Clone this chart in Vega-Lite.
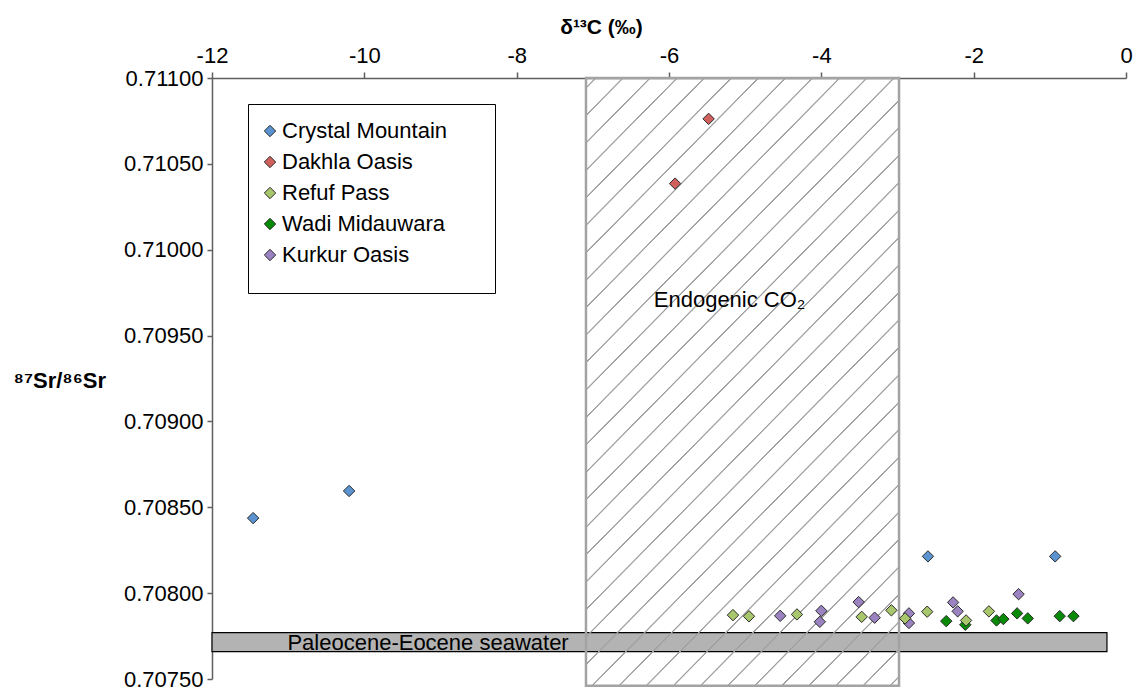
{
  "$schema": "https://vega.github.io/schema/vega-lite/v6.json",
  "width": 914,
  "height": 601,
  "autosize": {"type": "none"},
  "padding": {"left": 212, "top": 78, "right": 7, "bottom": 12},
  "background": "white",
  "config": {"font": "Liberation Sans", "view": {"stroke": null}},
  "datasets": {
    "sea": [{"d13C": -12, "d13C_end": -0.25, "sr": 0.70766, "sr_end": 0.70777}],
    "box": [{"d13C": -7.09, "d13C_end": -2.98, "sr": 0.70746, "sr_end": 0.711}],
    "pts": [
      {"site": "Crystal Mountain", "d13C": -11.46, "sr": 0.708437},
      {"site": "Crystal Mountain", "d13C": -10.2, "sr": 0.708595},
      {"site": "Crystal Mountain", "d13C": -2.6, "sr": 0.708214},
      {"site": "Crystal Mountain", "d13C": -0.93, "sr": 0.708214},
      {"site": "Dakhla Oasis", "d13C": -5.92, "sr": 0.710385},
      {"site": "Dakhla Oasis", "d13C": -5.48, "sr": 0.710762},
      {"site": "Wadi Midauwara", "d13C": -2.36, "sr": 0.707837},
      {"site": "Wadi Midauwara", "d13C": -2.11, "sr": 0.707816},
      {"site": "Wadi Midauwara", "d13C": -1.7, "sr": 0.707841},
      {"site": "Wadi Midauwara", "d13C": -1.61, "sr": 0.707849},
      {"site": "Wadi Midauwara", "d13C": -1.43, "sr": 0.707882},
      {"site": "Wadi Midauwara", "d13C": -1.29, "sr": 0.707853},
      {"site": "Wadi Midauwara", "d13C": -0.87, "sr": 0.707866},
      {"site": "Wadi Midauwara", "d13C": -0.69, "sr": 0.707866},
      {"site": "Kurkur Oasis", "d13C": -4.54, "sr": 0.707868},
      {"site": "Kurkur Oasis", "d13C": -4.0, "sr": 0.707897},
      {"site": "Kurkur Oasis", "d13C": -4.02, "sr": 0.707833},
      {"site": "Kurkur Oasis", "d13C": -3.51, "sr": 0.707948},
      {"site": "Kurkur Oasis", "d13C": -3.3, "sr": 0.707857},
      {"site": "Kurkur Oasis", "d13C": -2.85, "sr": 0.707882},
      {"site": "Kurkur Oasis", "d13C": -2.85, "sr": 0.707826},
      {"site": "Kurkur Oasis", "d13C": -2.27, "sr": 0.707946},
      {"site": "Kurkur Oasis", "d13C": -2.21, "sr": 0.707894},
      {"site": "Kurkur Oasis", "d13C": -1.41, "sr": 0.707994},
      {"site": "Refuf Pass", "d13C": -5.16, "sr": 0.707872},
      {"site": "Refuf Pass", "d13C": -4.95, "sr": 0.707865},
      {"site": "Refuf Pass", "d13C": -4.32, "sr": 0.707876},
      {"site": "Refuf Pass", "d13C": -3.47, "sr": 0.707862},
      {"site": "Refuf Pass", "d13C": -3.08, "sr": 0.7079},
      {"site": "Refuf Pass", "d13C": -2.9, "sr": 0.707853},
      {"site": "Refuf Pass", "d13C": -2.61, "sr": 0.707892},
      {"site": "Refuf Pass", "d13C": -2.1, "sr": 0.707841},
      {"site": "Refuf Pass", "d13C": -1.8, "sr": 0.707894}
    ],
    "notes": [
      {"d13C": -11.01, "sr": 0.70767, "label": "Paleocene-Eocene seawater"},
      {"d13C": -6.2, "sr": 0.709664, "label": "Endogenic CO₂"}
    ]
  },
  "encoding": {
    "x": {
      "field": "d13C", "type": "quantitative",
      "scale": {"domain": [-12, 0], "nice": false, "zero": false},
      "axis": {
        "orient": "top", "values": [-12, -10, -8, -6, -4, -2, 0], "grid": false,
        "labelExpr": "replace(datum.label, '−', '-')", "labelFlush": false, "labelOverlap": false,
        "title": "δ¹³C (‰)", "titleFontSize": 21, "titleFontWeight": "bold", "titleColor": "#000",
        "titleX": 389, "titleY": -45, "titleAlign": "center", "titleBaseline": "alphabetic",
        "labelFontSize": 22, "labelColor": "#000", "labelBaseline": "alphabetic", "labelPadding": 10,
        "tickSize": 6, "tickColor": "#5f5f5f", "tickWidth": 1.5,
        "domainColor": "#5f5f5f", "domainWidth": 1.5
      }
    },
    "y": {
      "field": "sr", "type": "quantitative",
      "scale": {"domain": [0.7075, 0.711], "nice": false, "zero": false},
      "axis": {
        "values": [0.7075, 0.708, 0.7085, 0.709, 0.7095, 0.71, 0.7105, 0.711], "grid": false,
        "format": ".5f", "labelFlush": false, "labelOverlap": false,
        "title": "⁸⁷Sr/⁸⁶Sr", "titleFontSize": 22, "titleFontWeight": "bold", "titleColor": "#000",
        "titleAngle": 0, "titleX": -199, "titleY": 309, "titleAlign": "left", "titleBaseline": "alphabetic",
        "labelFontSize": 22, "labelColor": "#000", "labelPadding": 4, "labelBaseline": "middle",
        "tickSize": 5, "tickColor": "#5f5f5f", "tickWidth": 1.5,
        "domainColor": "#5f5f5f", "domainWidth": 1.5
      }
    }
  },
  "layer": [
    {
      "data": {"name": "sea"},
      "mark": {"type": "rect", "fill": "#b3b3b3", "stroke": "#000", "strokeWidth": 1.2},
      "encoding": {"x2": {"field": "d13C_end"}, "y2": {"field": "sr_end"}}
    },
    {
      "data": {"name": "box"},
      "mark": {
        "type": "rect", "stroke": "#a3a3a3", "strokeWidth": 2.5,
        "fill": {
          "gradient": "linear", "x1": 0, "y1": 0, "x2": 0.6239, "y2": 1.1961,
          "stops": [
            {"offset": 0, "color": "rgba(160,160,160,0)"},
            {"offset": 0.0094, "color": "rgba(160,160,160,0)"}, {"offset": 0.0102, "color": "#a0a0a0"}, {"offset": 0.0114, "color": "#a0a0a0"}, {"offset": 0.0122, "color": "rgba(160,160,160,0)"},
            {"offset": 0.0391, "color": "rgba(160,160,160,0)"}, {"offset": 0.0399, "color": "#a0a0a0"}, {"offset": 0.0411, "color": "#a0a0a0"}, {"offset": 0.0419, "color": "rgba(160,160,160,0)"},
            {"offset": 0.0688, "color": "rgba(160,160,160,0)"}, {"offset": 0.0696, "color": "#a0a0a0"}, {"offset": 0.0708, "color": "#a0a0a0"}, {"offset": 0.0716, "color": "rgba(160,160,160,0)"},
            {"offset": 0.0984, "color": "rgba(160,160,160,0)"}, {"offset": 0.0992, "color": "#a0a0a0"}, {"offset": 0.1004, "color": "#a0a0a0"}, {"offset": 0.1012, "color": "rgba(160,160,160,0)"},
            {"offset": 0.1281, "color": "rgba(160,160,160,0)"}, {"offset": 0.1289, "color": "#a0a0a0"}, {"offset": 0.1301, "color": "#a0a0a0"}, {"offset": 0.1309, "color": "rgba(160,160,160,0)"},
            {"offset": 0.1578, "color": "rgba(160,160,160,0)"}, {"offset": 0.1586, "color": "#a0a0a0"}, {"offset": 0.1598, "color": "#a0a0a0"}, {"offset": 0.1606, "color": "rgba(160,160,160,0)"},
            {"offset": 0.1875, "color": "rgba(160,160,160,0)"}, {"offset": 0.1883, "color": "#a0a0a0"}, {"offset": 0.1895, "color": "#a0a0a0"}, {"offset": 0.1903, "color": "rgba(160,160,160,0)"},
            {"offset": 0.2172, "color": "rgba(160,160,160,0)"}, {"offset": 0.2180, "color": "#a0a0a0"}, {"offset": 0.2192, "color": "#a0a0a0"}, {"offset": 0.2200, "color": "rgba(160,160,160,0)"},
            {"offset": 0.2468, "color": "rgba(160,160,160,0)"}, {"offset": 0.2476, "color": "#a0a0a0"}, {"offset": 0.2488, "color": "#a0a0a0"}, {"offset": 0.2496, "color": "rgba(160,160,160,0)"},
            {"offset": 0.2765, "color": "rgba(160,160,160,0)"}, {"offset": 0.2773, "color": "#a0a0a0"}, {"offset": 0.2785, "color": "#a0a0a0"}, {"offset": 0.2793, "color": "rgba(160,160,160,0)"},
            {"offset": 0.3062, "color": "rgba(160,160,160,0)"}, {"offset": 0.3070, "color": "#a0a0a0"}, {"offset": 0.3082, "color": "#a0a0a0"}, {"offset": 0.3090, "color": "rgba(160,160,160,0)"},
            {"offset": 0.3359, "color": "rgba(160,160,160,0)"}, {"offset": 0.3367, "color": "#a0a0a0"}, {"offset": 0.3379, "color": "#a0a0a0"}, {"offset": 0.3387, "color": "rgba(160,160,160,0)"},
            {"offset": 0.3656, "color": "rgba(160,160,160,0)"}, {"offset": 0.3664, "color": "#a0a0a0"}, {"offset": 0.3676, "color": "#a0a0a0"}, {"offset": 0.3684, "color": "rgba(160,160,160,0)"},
            {"offset": 0.3952, "color": "rgba(160,160,160,0)"}, {"offset": 0.3960, "color": "#a0a0a0"}, {"offset": 0.3972, "color": "#a0a0a0"}, {"offset": 0.3980, "color": "rgba(160,160,160,0)"},
            {"offset": 0.4249, "color": "rgba(160,160,160,0)"}, {"offset": 0.4257, "color": "#a0a0a0"}, {"offset": 0.4269, "color": "#a0a0a0"}, {"offset": 0.4277, "color": "rgba(160,160,160,0)"},
            {"offset": 0.4546, "color": "rgba(160,160,160,0)"}, {"offset": 0.4554, "color": "#a0a0a0"}, {"offset": 0.4566, "color": "#a0a0a0"}, {"offset": 0.4574, "color": "rgba(160,160,160,0)"},
            {"offset": 0.4843, "color": "rgba(160,160,160,0)"}, {"offset": 0.4851, "color": "#a0a0a0"}, {"offset": 0.4863, "color": "#a0a0a0"}, {"offset": 0.4871, "color": "rgba(160,160,160,0)"},
            {"offset": 0.5140, "color": "rgba(160,160,160,0)"}, {"offset": 0.5148, "color": "#a0a0a0"}, {"offset": 0.5160, "color": "#a0a0a0"}, {"offset": 0.5168, "color": "rgba(160,160,160,0)"},
            {"offset": 0.5436, "color": "rgba(160,160,160,0)"}, {"offset": 0.5444, "color": "#a0a0a0"}, {"offset": 0.5456, "color": "#a0a0a0"}, {"offset": 0.5464, "color": "rgba(160,160,160,0)"},
            {"offset": 0.5733, "color": "rgba(160,160,160,0)"}, {"offset": 0.5741, "color": "#a0a0a0"}, {"offset": 0.5753, "color": "#a0a0a0"}, {"offset": 0.5761, "color": "rgba(160,160,160,0)"},
            {"offset": 0.6030, "color": "rgba(160,160,160,0)"}, {"offset": 0.6038, "color": "#a0a0a0"}, {"offset": 0.6050, "color": "#a0a0a0"}, {"offset": 0.6058, "color": "rgba(160,160,160,0)"},
            {"offset": 0.6327, "color": "rgba(160,160,160,0)"}, {"offset": 0.6335, "color": "#a0a0a0"}, {"offset": 0.6347, "color": "#a0a0a0"}, {"offset": 0.6355, "color": "rgba(160,160,160,0)"},
            {"offset": 0.6624, "color": "rgba(160,160,160,0)"}, {"offset": 0.6632, "color": "#a0a0a0"}, {"offset": 0.6644, "color": "#a0a0a0"}, {"offset": 0.6652, "color": "rgba(160,160,160,0)"},
            {"offset": 0.6920, "color": "rgba(160,160,160,0)"}, {"offset": 0.6928, "color": "#a0a0a0"}, {"offset": 0.6940, "color": "#a0a0a0"}, {"offset": 0.6948, "color": "rgba(160,160,160,0)"},
            {"offset": 0.7217, "color": "rgba(160,160,160,0)"}, {"offset": 0.7225, "color": "#a0a0a0"}, {"offset": 0.7237, "color": "#a0a0a0"}, {"offset": 0.7245, "color": "rgba(160,160,160,0)"},
            {"offset": 0.7514, "color": "rgba(160,160,160,0)"}, {"offset": 0.7522, "color": "#a0a0a0"}, {"offset": 0.7534, "color": "#a0a0a0"}, {"offset": 0.7542, "color": "rgba(160,160,160,0)"},
            {"offset": 0.7811, "color": "rgba(160,160,160,0)"}, {"offset": 0.7819, "color": "#a0a0a0"}, {"offset": 0.7831, "color": "#a0a0a0"}, {"offset": 0.7839, "color": "rgba(160,160,160,0)"},
            {"offset": 0.8108, "color": "rgba(160,160,160,0)"}, {"offset": 0.8116, "color": "#a0a0a0"}, {"offset": 0.8128, "color": "#a0a0a0"}, {"offset": 0.8136, "color": "rgba(160,160,160,0)"},
            {"offset": 0.8404, "color": "rgba(160,160,160,0)"}, {"offset": 0.8412, "color": "#a0a0a0"}, {"offset": 0.8424, "color": "#a0a0a0"}, {"offset": 0.8432, "color": "rgba(160,160,160,0)"},
            {"offset": 0.8701, "color": "rgba(160,160,160,0)"}, {"offset": 0.8709, "color": "#a0a0a0"}, {"offset": 0.8721, "color": "#a0a0a0"}, {"offset": 0.8729, "color": "rgba(160,160,160,0)"},
            {"offset": 0.8998, "color": "rgba(160,160,160,0)"}, {"offset": 0.9006, "color": "#a0a0a0"}, {"offset": 0.9018, "color": "#a0a0a0"}, {"offset": 0.9026, "color": "rgba(160,160,160,0)"},
            {"offset": 0.9295, "color": "rgba(160,160,160,0)"}, {"offset": 0.9303, "color": "#a0a0a0"}, {"offset": 0.9315, "color": "#a0a0a0"}, {"offset": 0.9323, "color": "rgba(160,160,160,0)"},
            {"offset": 0.9592, "color": "rgba(160,160,160,0)"}, {"offset": 0.9600, "color": "#a0a0a0"}, {"offset": 0.9612, "color": "#a0a0a0"}, {"offset": 0.9620, "color": "rgba(160,160,160,0)"},
            {"offset": 0.9888, "color": "rgba(160,160,160,0)"}, {"offset": 0.9896, "color": "#a0a0a0"}, {"offset": 0.9908, "color": "#a0a0a0"}, {"offset": 0.9916, "color": "rgba(160,160,160,0)"},
            {"offset": 1, "color": "rgba(160,160,160,0)"}
          ]
        }
      },
      "encoding": {"x2": {"field": "d13C_end"}, "y2": {"field": "sr_end"}}
    },
    {
      "data": {"name": "pts"},
      "mark": {"type": "point", "shape": "diamond", "filled": true, "size": 130, "stroke": "#2b2b2b", "strokeWidth": 1, "opacity": 1},
      "encoding": {
        "color": {
          "field": "site", "type": "nominal",
          "scale": {
            "domain": ["Crystal Mountain", "Dakhla Oasis", "Refuf Pass", "Wadi Midauwara", "Kurkur Oasis"],
            "range": ["#5a93cf", "#d0605c", "#a8c66c", "#078b07", "#9b83c1"]
          },
          "legend": {
            "orient": "none", "legendX": 36, "legendY": 26,
            "title": " ", "titleOrient": "bottom", "titleFontSize": 8, "titlePadding": 3,
            "labelFontSize": 22, "labelColor": "#000", "labelOffset": 1, "labelLimit": 500,
            "labelExpr": "datum.label + '\u2003\u2005\u2009\u200b'",
            "symbolType": "diamond", "symbolSize": 130, "symbolOffset": -5, "symbolStrokeColor": "#2b2b2b", "symbolStrokeWidth": 1, "symbolOpacity": 1,
            "strokeColor": "#000", "fillColor": "#fff", "padding": 16, "rowPadding": 9
          }
        }
      }
    },
    {
      "data": {"name": "notes"},
      "mark": {"type": "text", "align": "left", "baseline": "alphabetic", "fontSize": 22, "color": "#000"},
      "encoding": {"text": {"field": "label"}}
    }
  ]
}
